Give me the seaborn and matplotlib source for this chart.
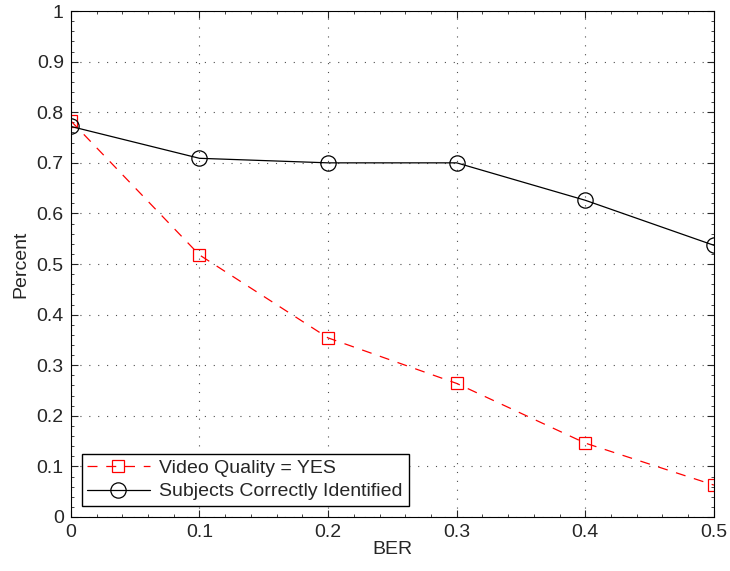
import matplotlib
matplotlib.use("Agg")
import matplotlib.pyplot as plt
import seaborn as sns
from matplotlib.ticker import AutoMinorLocator

# data
ber = [0.0, 0.1, 0.2, 0.3, 0.4, 0.5]
video_quality = [0.783, 0.518, 0.354, 0.264, 0.146, 0.063]
subjects_identified = [0.772, 0.709, 0.700, 0.700, 0.626, 0.537]
x_labels = ['0', '0.1', '0.2', '0.3', '0.4', '0.5']
y_labels = ['0', '0.1', '0.2', '0.3', '0.4', '0.5', '0.6', '0.7', '0.8', '0.9', '1']

sns.set_style("ticks")
plt.rcParams['font.family'] = ['Liberation Sans', 'DejaVu Sans']

fig = plt.figure(figsize=(7.3, 5.71), dpi=100)
ax = fig.add_axes([0.097, 0.0946, 0.881, 0.886])

sns.lineplot(x=ber, y=video_quality, ax=ax, color='red', linestyle=(0, (8, 7)),
             linewidth=0.9, marker='s', markersize=9, markerfacecolor='none',
             markeredgecolor='red', markeredgewidth=0.9,
             label='Video Quality = YES')
sns.lineplot(x=ber, y=subjects_identified, ax=ax, color='black', linewidth=0.9,
             marker='o', markersize=11, markerfacecolor='none',
             markeredgecolor='black', markeredgewidth=0.9,
             label='Subjects Correctly Identified')

ax.set_xlim(0, 0.5)
ax.set_ylim(0, 1)
ax.set_xticks(ber)
ax.set_yticks([i / 10 for i in range(11)])
ax.set_xticklabels(x_labels)
ax.set_yticklabels(y_labels)
ax.xaxis.set_minor_locator(AutoMinorLocator(5))
ax.yaxis.set_minor_locator(AutoMinorLocator(5))

ax.grid(True, which='major', color='0.3', linestyle=(0, (1, 7)), linewidth=0.8)
ax.tick_params(which='both', direction='in', top=True, right=True, labelsize=14, pad=5)
ax.tick_params(which='major', length=5, width=0.8)
ax.tick_params(which='minor', length=2.5, width=0.6)
for s in ax.spines.values():
    s.set_visible(True)
    s.set_color('black')
    s.set_linewidth(0.8)

ax.set_xlabel('BER', fontsize=14, labelpad=0)
ax.set_ylabel('Percent', fontsize=14, labelpad=5)

leg = ax.legend(loc='lower left', fontsize=14, frameon=True, fancybox=False,
                edgecolor='black', framealpha=1, borderpad=0.3, handlelength=3.2,
                handletextpad=0.5, labelspacing=0.3, borderaxespad=0.55)
leg.get_frame().set_linewidth(1.0)

fig.savefig('out.png', dpi=100)
